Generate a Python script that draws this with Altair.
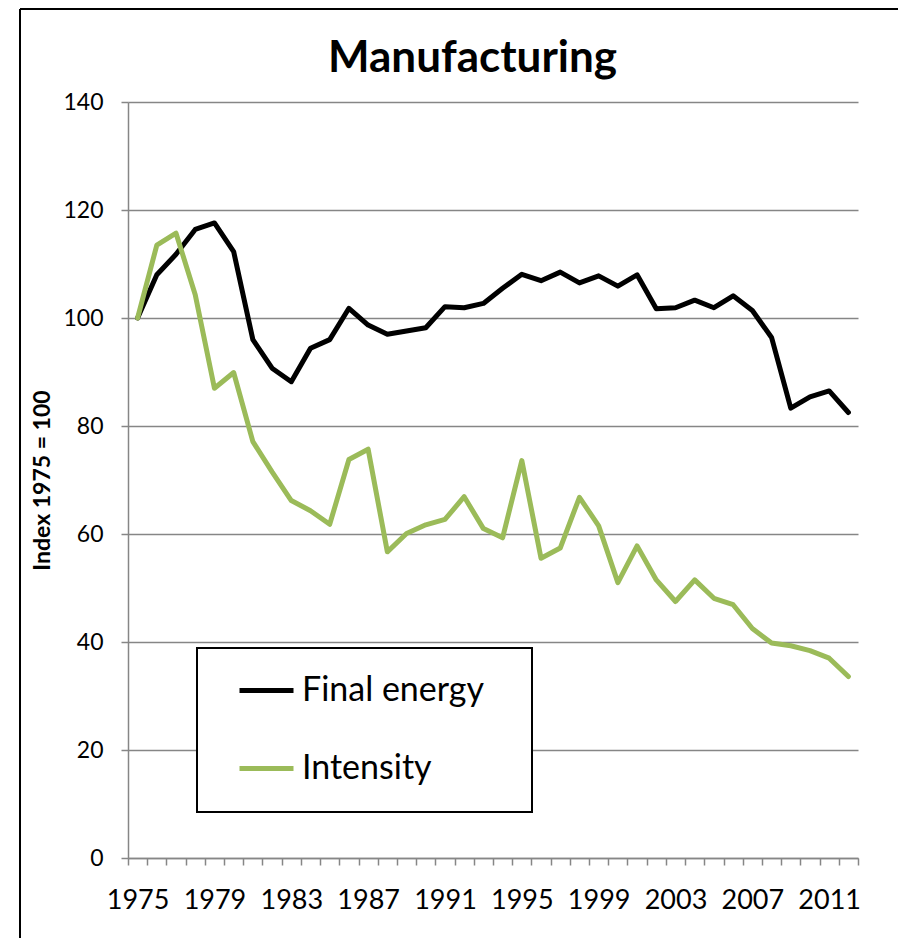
import altair as alt
import pandas as pd

years = list(range(1975, 2013))
final_energy = [100.0, 108.0, 111.8, 116.4, 117.6, 112.3, 96.0, 90.7, 88.2, 94.4,
                96.0, 101.8, 98.7, 97.0, 97.6, 98.2, 102.1, 101.9, 102.7, 105.5,
                108.1, 106.9, 108.5, 106.5, 107.8, 105.9, 108.0, 101.7, 101.9, 103.3,
                101.9, 104.1, 101.4, 96.4, 83.3, 85.4, 86.5, 82.5]
intensity = [100.0, 113.5, 115.7, 104.3, 87.0, 89.9, 77.1, 71.5, 66.2, 64.3,
             61.8, 73.8, 75.7, 56.7, 60.1, 61.7, 62.7, 66.9, 61.0, 59.3,
             73.6, 55.5, 57.4, 66.8, 61.5, 51.0, 57.8, 51.5, 47.5, 51.5,
             48.1, 46.9, 42.5, 39.8, 39.3, 38.4, 37.0, 33.6]
series_names = ["Final energy", "Intensity"]
series_colors = ["#000000", "#9BBB59"]
y_ticks = [0, 20, 40, 60, 80, 100, 120, 140]
chart_title = "Manufacturing"

rows = []
for name, vals in zip(series_names, [final_energy, intensity]):
    for yr, v in zip(years, vals):
        rows.append({"Year": yr, "Value": v, "Series": name})
df = pd.DataFrame(rows)

W, H = 730, 756
FONT = "Lato"
cat_w = W / len(years)
tick_vals = [years[0] - 0.5 + i for i in range(len(years) + 1)]

x_scale = alt.Scale(domain=[years[0] - 0.5, years[-1] + 0.5], nice=False, zero=False)
y_scale = alt.Scale(domain=[0, 140], nice=False)

one = pd.DataFrame({"k": [0]})

# legend frame (decorative, white box covering gridlines)
legend_box = alt.Chart(one).mark_rect(fill="#ffffff", stroke="#000000", strokeWidth=2).encode(
    x=alt.value(69), x2=alt.value(404), y=alt.value(546), y2=alt.value(710))

lines = alt.Chart(df).mark_line(strokeWidth=5, strokeJoin="round", strokeCap="round").encode(
    x=alt.X("Year:Q", scale=x_scale, axis=alt.Axis(
        values=tick_vals, grid=False, title=None,
        labelExpr="((datum.value + 0.5 - 1975) % 4 == 0 && datum.value < 2012) ? toString(datum.value + 0.5) : ''",
        labelOffset=cat_w / 2, labelOverlap=False, labelBound=False, labelFlush=False,
        labelFontSize=27, labelFont=FONT, labelColor="#000000", labelPadding=22,
        tickSize=7, tickColor="#868686", tickWidth=1.5,
        domainColor="#868686", domainWidth=1.5)),
    y=alt.Y("Value:Q", scale=y_scale, axis=alt.Axis(
        values=y_ticks, title="Index 1975 = 100", grid=True,
        gridColor="#868686", gridWidth=1.5,
        labelFontSize=23, labelFont=FONT, labelColor="#000000", labelPadding=18,
        tickSize=7, tickColor="#868686", tickWidth=1.5,
        domainColor="#868686", domainWidth=1.5,
        titleFont=FONT, titleFontSize=23, titleFontWeight="bold", titleColor="#000000",
        titleAngle=270, titleX=-86, titleY=H / 2, titleBaseline="middle", titleAlign="center")),
    color=alt.Color("Series:N", scale=alt.Scale(domain=series_names, range=series_colors),
                    legend=alt.Legend(
                        title=None, orient="none", legendX=69, legendY=546,
                        symbolType="stroke", symbolSize=2916, symbolStrokeWidth=5,
                        symbolOffset=27,
                        labelFont=FONT, labelFontSize=34, labelColor="#000000", labelOffset=6,
                        labelLimit=400,
                        rowPadding=31, padding=13)),
)

title_text = alt.Chart(one).mark_text(
    text=chart_title, font=FONT, fontSize=44, fontWeight="bold", color="#000000",
    align="center", baseline="alphabetic").encode(
    x=alt.value(344.5), y=alt.value(-30))

border_left = alt.Chart(one).mark_rule(color="#000000", strokeWidth=2).encode(
    x=alt.value(-108), y=alt.value(-93), y2=alt.value(H + 100))
border_top = alt.Chart(one).mark_rule(color="#000000", strokeWidth=2).encode(
    x=alt.value(-108), x2=alt.value(W + 60), y=alt.value(-93))

chart = alt.layer(border_left, border_top, legend_box, lines, title_text).properties(
    width=W, height=H,
    padding={"left": 120, "top": 94, "right": 40, "bottom": 80},
    autosize=alt.AutoSizeParams(type="none"),
).configure_view(stroke=None)

chart.save("out.html", embed_options={"renderer": "svg", "actions": False})
